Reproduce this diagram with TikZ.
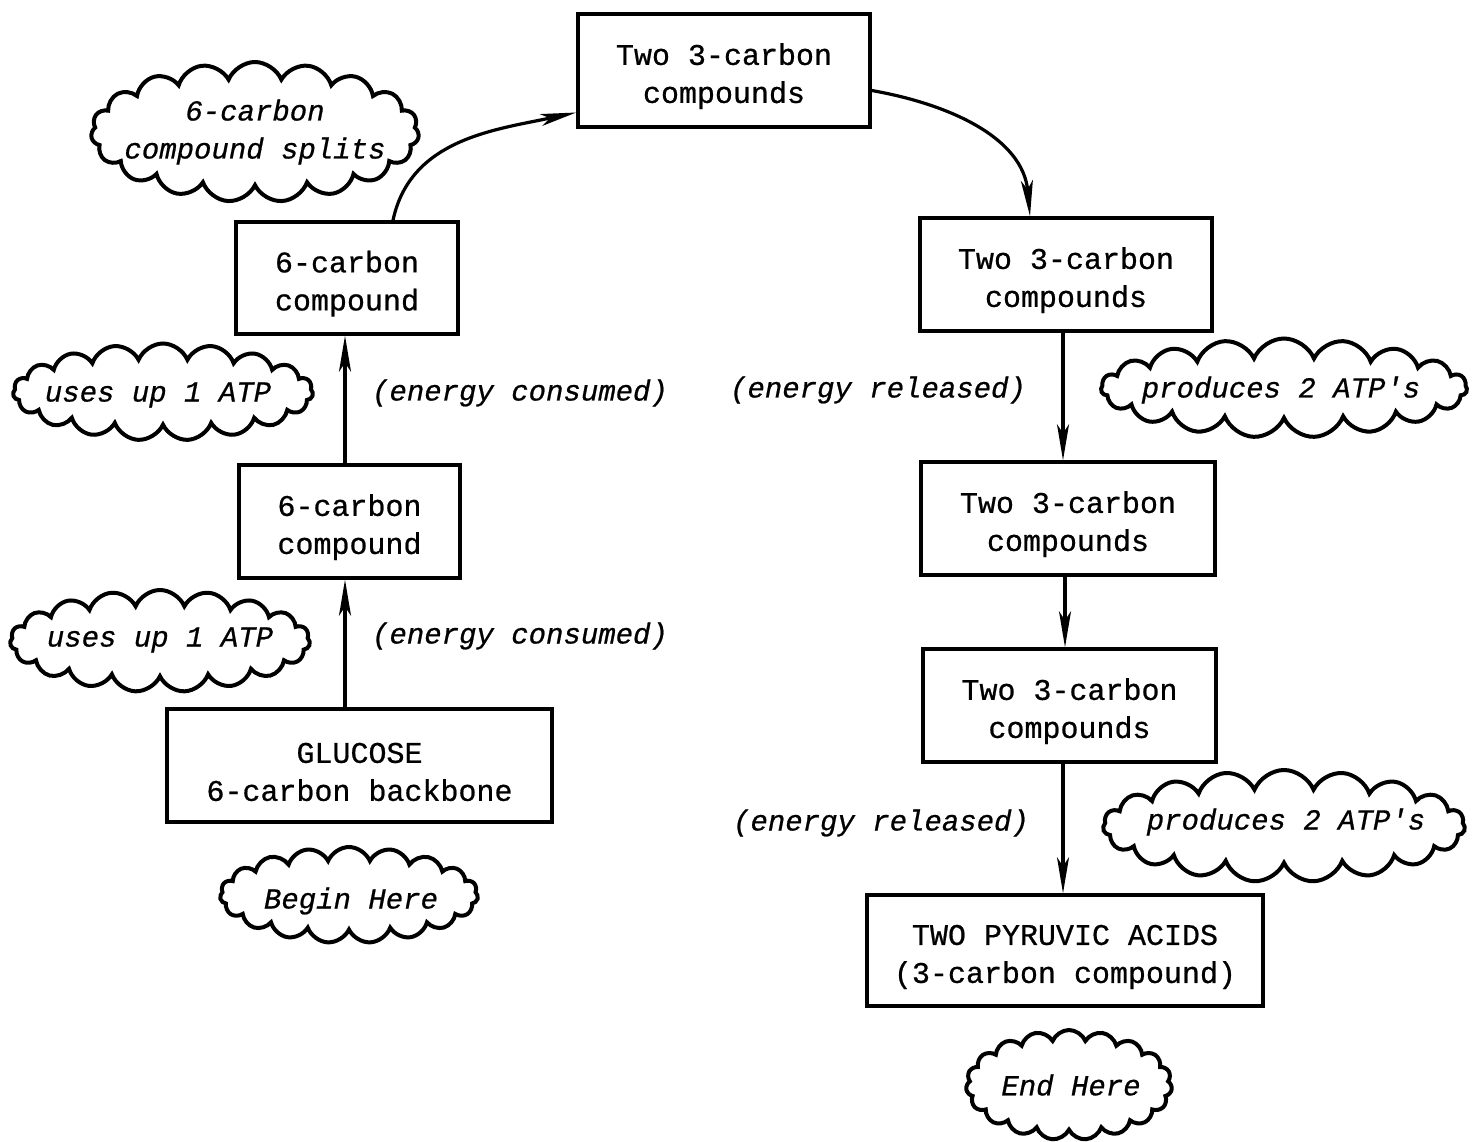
\documentclass[tikz,border=0pt]{standalone}
\usepackage{fontspec}
\setmainfont{Liberation Mono}[Ligatures=TeXOff, FakeBold=0.7]
\usetikzlibrary{shapes.symbols,arrows.meta}
\newcommand\tpstrut{\rule{0pt}{33pt}}
\tikzset{
  box/.style={draw, line width=3.4pt, rectangle, align=center, inner sep=0pt,
    font=\fontsize{30}{38}\selectfont},
  puff/.style={draw, line width=4pt, cloud, cloud puffs=19, cloud puff arc=135,
    cloud ignores aspect, inner sep=0pt},
  itl/.style={font=\fontsize{29}{38}\selectfont\itshape, align=center, inner sep=0pt},
  arr/.style={line width=3.2pt, -{Stealth[length=36pt,width=12pt,inset=9pt]}},
}
\begin{document}
\begin{tikzpicture}[x=1pt,y=-1pt]
\path[use as bounding box, fill=white] (0,0) rectangle (1478,1142);

% boxes
\node[box, minimum width=292pt, minimum height=113pt] (b1) at (724,70.5) {\tpstrut Two 3-carbon\\compounds};
\node[box, minimum width=222pt, minimum height=112pt] (b2) at (347,278) {\tpstrut 6-carbon\\compound};
\node[box, minimum width=221pt, minimum height=113pt] (b3) at (349.5,521.5) {\tpstrut 6-carbon\\compound};
\node[box, minimum width=385pt, minimum height=113pt] (g) at (359.5,765.5) {\tpstrut GLUCOSE\\6-carbon backbone};
\node[box, minimum width=292pt, minimum height=113pt] (r1) at (1066,274.5) {\tpstrut Two 3-carbon\\compounds};
\node[box, minimum width=294pt, minimum height=113pt] (r2) at (1068,518.5) {\tpstrut Two 3-carbon\\compounds};
\node[box, minimum width=293pt, minimum height=113pt] (r3) at (1069.5,705.5) {\tpstrut Two 3-carbon\\compounds};
\node[box, minimum width=396pt, minimum height=111pt] (p) at (1065,950.5) {\tpstrut TWO PYRUVIC ACIDS\\(3-carbon compound)};

% clouds
\node[puff, minimum width=328pt, minimum height=140pt] (cs) at (255,132) {};
\node[itl] (cst) at (255,132) {6-carbon\\compound splits};
\node[puff, minimum width=300pt, minimum height=97pt] (cu1) at (163,392) {};
\node[itl] (cu1t) at (158,395) {uses up 1 ATP};
\node[puff, minimum width=300pt, minimum height=102pt] (cu2) at (160,641) {};
\node[itl] (cu2t) at (160,640) {uses up 1 ATP};
\node[puff, minimum width=258pt, minimum height=96pt] (cb) at (349,895) {};
\node[itl] (cbt) at (351,901) {Begin Here};
\node[puff, minimum width=366pt, minimum height=99pt] (cp1) at (1284,388) {};
\node[itl] (cp1t) at (1281,390) {produces 2 ATP's};
\node[puff, minimum width=362pt, minimum height=112pt] (cp2) at (1284,826) {};
\node[itl] (cp2t) at (1286,822) {produces 2 ATP's};
\node[puff, minimum width=206pt, minimum height=110pt] (ce) at (1069,1085) {};
\node[itl] (cet) at (1071,1085) {End Here};

% energy labels
\node[itl] (e1) at (520,393) {(energy consumed)};
\node[itl] (e2) at (878,390) {(energy released)};
\node[itl] (e3) at (520,636) {(energy consumed)};
\node[itl] (e4) at (881,823) {(energy released)};

% arrows
\draw[arr] ([xshift=-14.5pt]g.north) -- ([xshift=-14.5pt]g.north |- b3.south);
\draw[arr] ([xshift=-4.5pt]b3.north) -- ([xshift=-4.5pt]b3.north |- b2.south);
\draw[arr] ([xshift=46pt]b2.north) to[out=78,in=192] ([yshift=-42pt]b1.west);
\draw[arr] ([yshift=-20pt]b1.east) to[out=-10,in=95] ([xshift=-36pt]r1.north);
\draw[arr] ([xshift=-3pt]r1.south) -- ([xshift=-3pt]r1.south |- r2.north);
\draw[arr] ([xshift=-3pt]r2.south) -- ([xshift=-3pt]r2.south |- r3.north);
\draw[arr] ([xshift=-6.5pt]r3.south) -- ([xshift=-6.5pt]r3.south |- p.north);
\end{tikzpicture}
\end{document}
